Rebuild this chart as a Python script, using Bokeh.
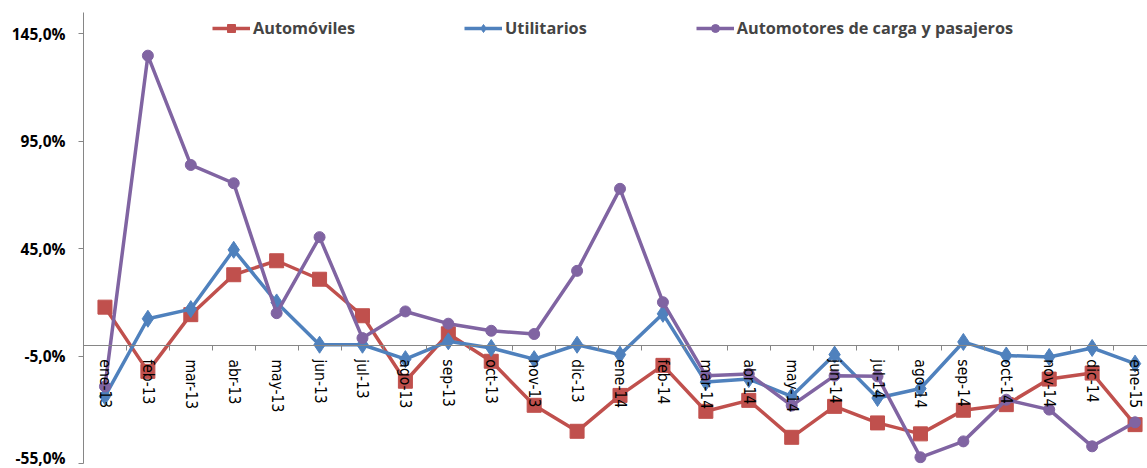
from bokeh.plotting import figure
from bokeh.models import Range1d, FixedTicker, Legend, LegendItem
from bokeh.embed import file_html
from bokeh.resources import INLINE

months = ["ene-13", "feb-13", "mar-13", "abr-13", "may-13", "jun-13", "jul-13",
          "ago-13", "sep-13", "oct-13", "nov-13", "dic-13", "ene-14", "feb-14",
          "mar-14", "abr-14", "may-14", "jun-14", "jul-14", "ago-14", "sep-14",
          "oct-14", "nov-14", "dic-14", "ene-15"]

automoviles = [17.8, -12.1, 14.3, 32.9, 39.4, 30.8, 13.8, -16.7, 5.4, -7.4,
               -27.9, -40.0, -23.3, -9.3, -30.7, -25.6, -42.8, -28.4, -36.1,
               -41.2, -30.2, -27.6, -15.7, -12.9, -36.9]

utilitarios = [-23.7, 12.4, 16.9, 44.5, 20.0, 0.3, 0.3, -6.4, 1.9, -1.2,
               -6.4, 0.3, -4.3, 14.7, -17.1, -15.7, -23.7, -4.3, -24.5,
               -20.1, 1.6, -4.7, -5.4, -1.2, -8.5]

automotores = [-19.1, 134.9, 84.0, 75.5, 15.0, 50.4, 3.4, 15.8, 10.1, 6.8,
               5.3, 34.7, 72.9, 20.1, -14.1, -13.3, -28.0, -14.1, -14.4,
               -52.1, -44.7, -25.3, -29.9, -47.0, -35.8]

series_names = ["Automóviles", "Utilitarios", "Automotores de carga y pasajeros"]
series_colors = ["#C0504D", "#4F81BD", "#8064A2"]

y_ticks = [-55, -5, 45, 95, 145]
y_tick_labels = ["-55,0%", "-5,0%", "45,0%", "95,0%", "145,0%"]

x = list(range(len(months)))

p = figure(width=1147, height=468, output_backend="svg", toolbar_location=None,
           x_range=Range1d(-0.5, 24.29), y_range=Range1d(-55, 155),
           min_border_left=83, min_border_right=0, min_border_top=12,
           min_border_bottom=5)
p.outline_line_color = None
p.xgrid.visible = False
p.ygrid.visible = False
p.background_fill_color = "white"
p.border_fill_color = "white"

axis_gray = "#868686"

xa = p.xaxis[0]
xa.ticker = FixedTicker(ticks=x, minor_ticks=[i - 0.5 for i in range(len(months) + 1)])
xa.major_label_overrides = {i: m for i, m in enumerate(months)}
xa.fixed_location = 0
xa.major_label_orientation = "vertical"
xa.axis_line_color = axis_gray
xa.axis_line_width = 1
xa.major_tick_out = 0
xa.major_tick_in = 0
xa.major_tick_line_color = None
xa.minor_tick_out = 5
xa.minor_tick_in = 0
xa.minor_tick_line_color = axis_gray
xa.major_label_standoff = 9
xa.major_label_text_font = "'Liberation Sans Narrow', 'DejaVu Sans Condensed', sans-serif"
xa.major_label_text_font_size = "15.5px"
xa.major_label_text_color = "black"

ya = p.yaxis[0]
ya.ticker = FixedTicker(ticks=y_ticks, minor_ticks=[])
ya.major_label_overrides = {t: l for t, l in zip(y_ticks, y_tick_labels)}
ya.axis_line_color = axis_gray
ya.major_tick_line_color = axis_gray
ya.major_tick_out = 5
ya.major_tick_in = 0
ya.minor_tick_line_color = None
ya.major_label_standoff = 13
ya.major_label_text_font = "Open Sans"
ya.major_label_text_font_style = "bold"
ya.major_label_text_font_size = "15.5px"
ya.major_label_text_color = "black"

items = []
data = [automoviles, utilitarios, automotores]
markers = [("square", 14), ("diamond", 17), ("circle", 11)]
for name, color, vals, (mk, sz) in zip(series_names, series_colors, data, markers):
    rl = p.line(x, vals, line_color=color, line_width=3.5)
    rs = p.scatter(x, vals, marker=mk, size=sz, fill_color=color, line_color=color)
    items.append(LegendItem(label=name, renderers=[rl, rs]))

legend = Legend(items=items, orientation="horizontal", location=(129, 424),
                border_line_color=None, background_fill_alpha=0,
                label_text_font="Open Sans", label_text_font_style="bold",
                label_text_font_size="16.3px", glyph_width=38, glyph_height=20,
                spacing=109, padding=0, margin=0, label_standoff=3)
p.add_layout(legend)

open("out.html", "w").write(file_html(p, INLINE))
